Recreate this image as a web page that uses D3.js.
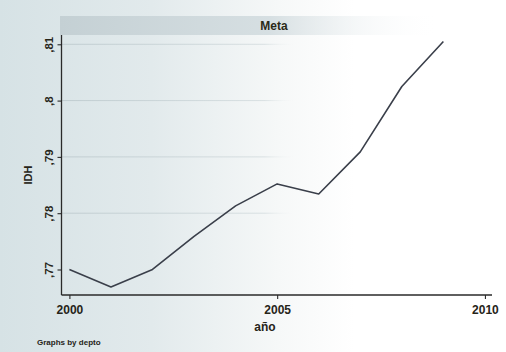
<!DOCTYPE html>
<html>
<head>
<meta charset="utf-8">
<script src="https://cdn.jsdelivr.net/npm/d3@7"></script>
<style>
  html, body { margin: 0; padding: 0; background: #ffffff; }
  svg { display: block; }
  text { font-family: "Liberation Sans", Arial, sans-serif; font-weight: bold; }
</style>
</head>
<body>
<svg id="chart" width="506" height="352"></svg>
<script>
// IDH (índice de desarrollo humano) for Meta, by year
const years = [2000, 2001, 2002, 2003, 2004, 2005, 2006, 2007, 2008, 2009];
const idh   = [0.7700, 0.7669, 0.7700, 0.7759, 0.7813, 0.7852, 0.7834, 0.7909, 0.8025, 0.8105];
const xTicks = [2000, 2005, 2010];
const yTicks = [0.77, 0.78, 0.79, 0.80, 0.81];
const yTickLabels = [",77", ",78", ",79", ",8", ",81"];
const titleText = "Meta";
const xTitle = "año";
const yTitle = "IDH";
const noteText = "Graphs by depto";

const W = 506, H = 352;
const svg = d3.select("#chart");
const defs = svg.append("defs");

// page lighting: grey-blue on the left, washing out to white on the right
const bg = defs.append("linearGradient").attr("id", "bg")
  .attr("x1", "0%").attr("y1", "0%").attr("x2", "100%").attr("y2", "0%");
bg.append("stop").attr("offset", "0%").attr("stop-color", "#d6e2e5");
bg.append("stop").attr("offset", "30%").attr("stop-color", "#e2eaec");
bg.append("stop").attr("offset", "55%").attr("stop-color", "#f6f8f8");
bg.append("stop").attr("offset", "70%").attr("stop-color", "#ffffff");
bg.append("stop").attr("offset", "100%").attr("stop-color", "#ffffff");

const band = defs.append("linearGradient").attr("id", "band")
  .attr("x1", "0%").attr("y1", "0%").attr("x2", "100%").attr("y2", "0%");
band.append("stop").attr("offset", "0%").attr("stop-color", "#c4d0d4");
band.append("stop").attr("offset", "55%").attr("stop-color", "#d6dfe2");
band.append("stop").attr("offset", "100%").attr("stop-color", "#ffffff").attr("stop-opacity", 0);

const grid = defs.append("linearGradient").attr("id", "gridfade")
  .attr("gradientUnits", "userSpaceOnUse")
  .attr("x1", 62).attr("y1", 0).attr("x2", 300).attr("y2", 0);
grid.append("stop").attr("offset", "0%").attr("stop-color", "#b9c6ca").attr("stop-opacity", 0.8);
grid.append("stop").attr("offset", "85%").attr("stop-color", "#c6d1d4").attr("stop-opacity", 0.6);
grid.append("stop").attr("offset", "100%").attr("stop-color", "#ffffff").attr("stop-opacity", 0);

svg.append("rect").attr("width", W).attr("height", H).attr("fill", "url(#bg)");

// plot region
const plotLeft = 61.5, plotRight = 492, plotTop = 35, plotBottom = 295;
const x = d3.scaleLinear().domain([1999.81, 2010.17]).range([plotLeft, plotRight]);
const y = d3.scaleLinear().domain([0.76547, 0.81165]).range([plotBottom, plotTop]);

// subtitle band
svg.append("rect").attr("x", 60).attr("y", 16).attr("width", 380).attr("height", 19)
  .attr("fill", "url(#band)");
svg.append("text").attr("x", 274).attr("y", 30).attr("text-anchor", "middle")
  .attr("font-size", 12).attr("fill", "#2b2a18").text(titleText);

// faint gridlines
svg.append("g").selectAll("line").data(yTicks.slice(1)).join("line")
  .attr("x1", plotLeft).attr("x2", 300)
  .attr("y1", d => y(d)).attr("y2", d => y(d))
  .attr("stroke", "url(#gridfade)").attr("stroke-width", 1);

// data line
svg.append("path").datum(years.map((yr, i) => [yr, idh[i]]))
  .attr("fill", "none").attr("stroke", "#3a3f4a").attr("stroke-width", 1.6)
  .attr("stroke-linejoin", "round")
  .attr("d", d3.line().x(d => x(d[0])).y(d => y(d[1])));

// y axis
const yAxis = svg.append("g").attr("transform", `translate(${plotLeft},0)`)
  .call(d3.axisLeft(y).tickValues(yTicks).tickSize(4).tickFormat((d, i) => yTickLabels[i]));
yAxis.select(".domain").attr("stroke", "#2a2a2a").attr("stroke-width", 1.3)
  .attr("d", `M0,${plotTop}V${plotBottom}`);
yAxis.selectAll(".tick line").attr("stroke", "#2a2a2a").attr("stroke-width", 1.1);
yAxis.selectAll(".tick text")
  .attr("font-size", 11.5).attr("fill", "#262418")
  .attr("x", null).attr("dy", null)
  .attr("text-anchor", "middle")
  .attr("transform", "translate(-9,0) rotate(-90)");

// x axis
const xAxis = svg.append("g").attr("transform", `translate(0,${plotBottom})`)
  .call(d3.axisBottom(x).tickValues(xTicks).tickSize(4).tickFormat(d3.format("d")));
xAxis.select(".domain").attr("stroke", "#2a2a2a").attr("stroke-width", 1.5)
  .attr("d", `M${plotLeft},0H${plotRight}`);
xAxis.selectAll(".tick line").attr("stroke", "#2a2a2a").attr("stroke-width", 1.1);
xAxis.selectAll(".tick text").attr("font-size", 12).attr("fill", "#262418")
  .attr("y", 10).attr("dy", "0.71em");

// axis titles
svg.append("text").attr("transform", "translate(32,175) rotate(-90)")
  .attr("text-anchor", "middle").attr("font-size", 11).attr("fill", "#262418").text(yTitle);
svg.append("text").attr("x", 265).attr("y", 331).attr("text-anchor", "middle")
  .attr("font-size", 12).attr("fill", "#262418").text(xTitle);

// by-group note
svg.append("text").attr("x", 37).attr("y", 345).attr("font-size", 8)
  .attr("fill", "#262418").text(noteText);
</script>
</body>
</html>
